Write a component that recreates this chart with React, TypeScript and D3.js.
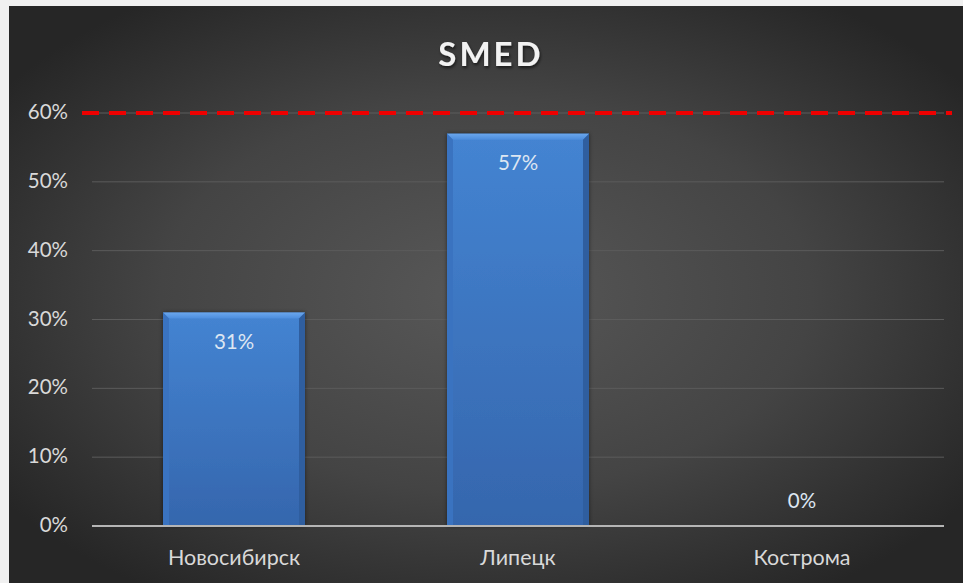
import React from "react";
import * as d3 from "d3";

const categories = ["Новосибирск", "Липецк", "Кострома"];
const values = [0.31, 0.57, 0];
const yTicks = [0, 0.1, 0.2, 0.3, 0.4, 0.5, 0.6];
const targetValue = 0.6;
const title = "SMED";

const W = 963;
const H = 583;
const FONT = "Lato, 'Open Sans', sans-serif";

export default function App() {
  const x = d3.scaleBand<string>().domain(categories).range([92, 944]).paddingInner(0.5).paddingOuter(0.25);
  const y = d3.scaleLinear().domain([0, 0.6]).range([526, 113]);
  const fmt = d3.format(".0%");
  const bw = x.bandwidth();
  const bev = 6;

  return (
    <svg width={W} height={H} style={{ position: "absolute", left: 0, top: 0, display: "block" }}>
      <defs>
        <radialGradient id="bg" cx="0.5" cy="0.5" r="0.62">
          <stop offset="0" stopColor="#585858" />
          <stop offset="0.55" stopColor="#444444" />
          <stop offset="1" stopColor="#262626" />
        </radialGradient>
        <linearGradient id="barG" x1="0" y1="0" x2="0" y2="1">
          <stop offset="0" stopColor="#4484d2" />
          <stop offset="1" stopColor="#3566ad" />
        </linearGradient>
        <linearGradient id="bevTop" x1="0" y1="0" x2="0" y2="1">
          <stop offset="0" stopColor="#6aa6ec" />
          <stop offset="1" stopColor="#4c8ddd" />
        </linearGradient>
        <filter id="tshadow" x="-20%" y="-20%" width="140%" height="140%">
          <feDropShadow dx="1" dy="2" stdDeviation="1.5" floodColor="#000" floodOpacity="0.6" />
        </filter>
        <filter id="bshadow" x="-20%" y="-20%" width="140%" height="140%">
          <feDropShadow dx="0" dy="0" stdDeviation="2" floodColor="#000" floodOpacity="0.5" />
        </filter>
      </defs>
      <rect x={0} y={0} width={W} height={H} fill="#f0f0f0" />
      <rect x={9} y={6} width={W - 9} height={H - 6} fill="url(#bg)" />

      <text x={491} y={66} textAnchor="middle" fill="#f2f2f2" fontFamily={FONT} fontWeight="bold" fontSize={33} letterSpacing={3} filter="url(#tshadow)">
        {title}
      </text>

      {yTicks.map((t) => (
        <g key={t}>
          {t > 0 && <line x1={92} x2={944} y1={y(t)} y2={y(t)} stroke="#5c5c5c" strokeWidth={1} />}
          <text x={68} y={y(t) + 6} textAnchor="end" fill="#d9d9d9" fontFamily={FONT} fontSize={20.5}>
            {fmt(t)}
          </text>
        </g>
      ))}

      {categories.map((c, i) => {
        const x0 = x(c)!;
        const yv = y(values[i]);
        const h = y(0) - yv;
        return (
          <g key={c}>
            {h > 0 && (
              <g>
                <rect x={x0} y={yv} width={bw} height={h} fill="url(#barG)" filter="url(#bshadow)" />
                <polygon points={`${x0},${yv} ${x0 + bw},${yv} ${x0 + bw - bev},${yv + bev} ${x0 + bev},${yv + bev}`} fill="url(#bevTop)" />
                <polygon points={`${x0},${yv} ${x0 + bev},${yv + bev} ${x0 + bev},${y(0)} ${x0},${y(0)}`} fill="#3a73c0" />
                <polygon points={`${x0 + bw},${yv} ${x0 + bw - bev},${yv + bev} ${x0 + bw - bev},${y(0)} ${x0 + bw},${y(0)}`} fill="#2f5e9f" />
              </g>
            )}
            <text x={x0 + bw / 2} y={h > 0 ? yv + 36 : yv - 18} textAnchor="middle" fill="#dde6f2" fontFamily={FONT} fontSize={20.5}>
              {fmt(values[i])}
            </text>
            <text x={x0 + bw / 2} y={565} textAnchor="middle" fill="#d9d9d9" fontFamily={FONT} fontSize={21.5}>
              {c}
            </text>
          </g>
        );
      })}

      <line x1={92} x2={944} y1={y(0)} y2={y(0)} stroke="#b5b5b5" strokeWidth={2} />
      <line x1={82} x2={952} y1={y(targetValue)} y2={y(targetValue)} stroke="#ee0000" strokeWidth={4} strokeDasharray="17 10" />
    </svg>
  );
}
